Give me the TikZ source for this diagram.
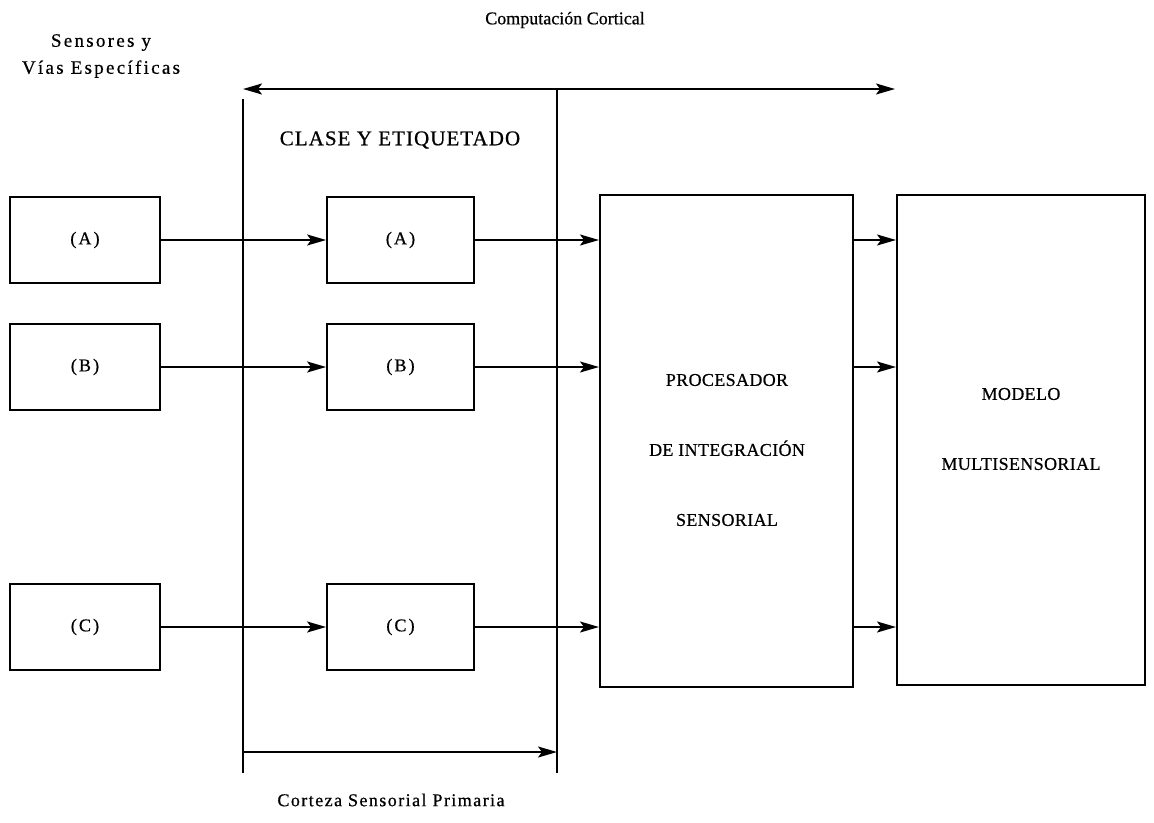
\documentclass[tikz,border=0pt]{standalone}
\usepackage{fontspec}
\setmainfont{Liberation Serif}[FakeBold=0.6]
\usetikzlibrary{arrows.meta}
\begin{document}
\begin{tikzpicture}[x=1pt,y=-1pt,
  tip/.tip={Stealth[length=19pt,width=11pt,inset=4pt]},
  box/.style={draw,line width=1.8pt,inner sep=0pt,font=\fontsize{18}{20}\selectfont\addfontfeatures{LetterSpace=12}},
  bigbox/.style={draw,line width=2pt,inner sep=0pt},
  boxtext/.style={align=center,inner sep=0pt,font=\fontsize{18}{70}\selectfont\addfontfeatures{LetterSpace=2}},
  conn/.style={line width=1.8pt,-tip},
  bar/.style={line width=1.8pt},
  lbl/.style={font=\fontsize{18}{27}\selectfont,align=center,inner sep=0pt}]
\useasboundingbox (0,0) rectangle (1154,822);
% labels
\node[lbl] (comp) at (565,20) {Computación Cortical};
\node[lbl,font=\fontsize{19}{27}\selectfont\addfontfeatures{LetterSpace=12}] (sens) at (101,56) {Sensores y\\Vías Específicas};
\node[lbl,font=\fontsize{21}{22}\selectfont\addfontfeatures{LetterSpace=5}] (clase) at (400,140) {CLASE Y ETIQUETADO};
\node[lbl,font=\fontsize{18}{27}\selectfont\addfontfeatures{LetterSpace=8}] (corteza) at (391,800) {Corteza Sensorial Primaria};
% vertical bars
\coordinate (v1t) at (243,99);
\coordinate (v1b) at (243,773);
\coordinate (v2t) at (557,89);
\coordinate (v2b) at (557,773);
\coordinate (tl) at (243,89);
\coordinate (tr) at (895,89);
\coordinate (bl) at (243,752);
\coordinate (br) at (557,752);
\draw[bar] (v1t) -- (v1b);
\draw[bar] (v2t) -- (v2b);
\draw[line width=1.8pt,tip-tip] (tl) -- (tr);
\draw[conn] (bl) -- (br);
% boxes
\node[box,minimum width=150pt,minimum height=86pt] (la) at (85,240) {(A)};
\node[box,minimum width=150pt,minimum height=86pt] (lb) at (85,367) {(B)};
\node[box,minimum width=150pt,minimum height=86pt] (lc) at (85,627) {(C)};
\node[box,minimum width=147pt,minimum height=86pt] (ma) at (400.5,240) {(A)};
\node[box,minimum width=147pt,minimum height=86pt] (mb) at (400.5,367) {(B)};
\node[box,minimum width=147pt,minimum height=86pt] (mc) at (400.5,627) {(C)};
\node[bigbox,minimum width=253pt,minimum height=492pt] (proc) at (726.5,441) {};
\node[bigbox,minimum width=248pt,minimum height=490pt] (mod) at (1021,440) {};
\node[boxtext] (proct) at (727,450) {PROCESADOR\\DE INTEGRACIÓN\\SENSORIAL};
\node[boxtext] (modt) at (1021,429) {MODELO\\MULTISENSORIAL};
% connectors
\draw[conn] (la.east) -- (ma.west);
\draw[conn] (lb.east) -- (mb.west);
\draw[conn] (lc.east) -- (mc.west);
\draw[conn] (ma.east) -- (ma.east -| proc.west);
\draw[conn] (mb.east) -- (mb.east -| proc.west);
\draw[conn] (mc.east) -- (mc.east -| proc.west);
\draw[conn] (proc.east |- ma.east) -- (mod.west |- ma.east);
\draw[conn] (proc.east |- mb.east) -- (mod.west |- mb.east);
\draw[conn] (proc.east |- mc.east) -- (mod.west |- mc.east);
\end{tikzpicture}
\end{document}
